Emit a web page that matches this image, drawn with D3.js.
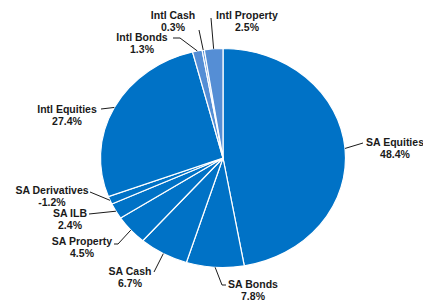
<!DOCTYPE html>
<html>
<head>
<meta charset="utf-8">
<script src="https://cdn.jsdelivr.net/npm/d3@7"></script>
<style>
  body { margin: 0; background: #fff; }
  text { font-family: "Liberation Sans", Arial, sans-serif; font-weight: bold; font-size: 10.5px; fill: #1a1a1a; }
</style>
</head>
<body>
<svg width="423" height="301"></svg>
<script>
const categories = ['SA Equities', 'SA Bonds', 'SA Cash', 'SA Property', 'SA ILB',
  'SA Derivatives', 'Intl Equities', 'Intl Bonds', 'Intl Cash', 'Intl Property']
const values = [48.4, 7.8, 6.7, 4.5, 2.4, -1.2, 27.4, 1.3, 0.3, 2.5]
const percentLabels = ['48.4%', '7.8%', '6.7%', '4.5%', '2.4%', '-1.2%', '27.4%', '1.3%', '0.3%', '2.5%']

// label placement: text centre (tx, ty) and the point where the leader line meets the text
const labelLayout = {
  'SA Equities':    { tx: 395, ty: 142, lx: 363, ly: 143 },
  'SA Bonds':       { tx: 253, ty: 284, lx: 226, ly: 285, elbow: [222, 285] },
  'SA Cash':        { tx: 130, ty: 271, lx: 154, ly: 272 },
  'SA Property':    { tx: 82,  ty: 241, lx: 114, ly: 244, elbow: [118, 244] },
  'SA ILB':         { tx: 70,  ty: 213, lx: 89,  ly: 214 },
  'SA Derivatives': { tx: 52,  ty: 190, lx: 90,  ly: 192 },
  'Intl Equities':  { tx: 67,  ty: 109, lx: 101, ly: 109 },
  'Intl Bonds':     { tx: 142, ty: 37,  lx: 173, ly: 38, elbow: [180, 38] },
  'Intl Cash':      { tx: 173, ty: 15,  lx: 199, ly: 30 },
  'Intl Property':  { tx: 247, ty: 15,  lx: 211, ly: 18 }
}

const dark = '#0072C6'
const light = '#558ED5'
const color = d3.scaleOrdinal()
  .domain(categories)
  .range([dark, dark, dark, dark, dark, dark, dark, light, light, light])

const cx = 223, cy = 158, ry = 109.5, sx = 122.5 / 109.5

const svg = d3.select('svg')

const pie = d3.pie().sort(null).value(d => Math.abs(d.value))
const data = categories.map((c, i) => ({ name: c, value: values[i], label: percentLabels[i] }))
const arcs = pie(data)

const arc = d3.arc().innerRadius(0).outerRadius(ry)

const g = svg.append('g')
  .attr('transform', `translate(${cx},${cy}) scale(${sx},1)`)

g.selectAll('path')
  .data(arcs)
  .enter()
  .append('path')
  .attr('d', arc)
  .attr('fill', d => color(d.data.name))
  .attr('stroke', '#fff')
  .attr('stroke-width', 1.2)
  .attr('vector-effect', 'non-scaling-stroke')

function edgePoint(d) {
  const a = (d.startAngle + d.endAngle) / 2
  return [cx + sx * ry * Math.sin(a), cy - ry * Math.cos(a)]
}

const labels = svg.append('g')

arcs.forEach(d => {
  const L = labelLayout[d.data.name]
  const pts = [[L.lx, L.ly]]
  if (L.elbow) pts.push(L.elbow)
  pts.push(edgePoint(d))
  labels.append('path')
    .attr('d', d3.line()(pts))
    .attr('fill', 'none')
    .attr('stroke', '#000')
    .attr('stroke-width', 0.9)

  const t = labels.append('text')
    .attr('text-anchor', 'middle')
    .attr('x', L.tx)
    .attr('y', L.ty + 4)
  t.append('tspan').attr('x', L.tx).text(d.data.name)
  t.append('tspan').attr('x', L.tx).attr('dy', 11.5).text(d.data.label)
})
</script>
</body>
</html>
